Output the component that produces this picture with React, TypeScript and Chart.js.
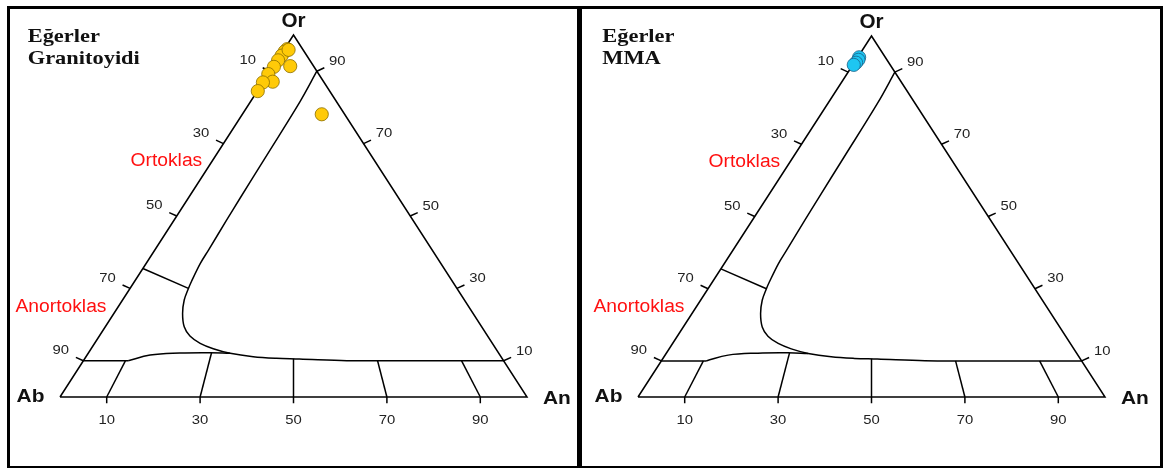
import React, { useEffect, useRef } from "react";
import { Chart, registerables } from "chart.js";

Chart.register(...registerables);

// ---------- data (ternary compositions, percent) ----------
const TICK_VALUES = [10, 30, 50, 70, 90];
const LEFT_TICK_LABELS = ["10", "30", "50", "70", "90"]; // Ab along Or–Ab edge
const RIGHT_TICK_LABELS = ["90", "70", "50", "30", "10"]; // Or along Or–An edge
const BOTTOM_TICK_LABELS = ["10", "30", "50", "70", "90"]; // An along Ab–An edge

// Alkali-feldspar / plagioclase boundary (solvus) – An and Or values
const SOLVUS_AN = [10, 10.6, 10.9, 11.1, 11.25, 11.5, 11.6, 12.2, 12.5, 13.2, 14.7, 16.9, 19.4, 22.6, 26.15, 30.4, 35.8, 41, 46, 56.4, 61, 90];
const SOLVUS_OR = [90, 81.6, 66, 54.9, 48.9, 40.6, 36.9, 31.85, 30, 26.8, 23.1, 19.4, 16.85, 14.83, 13.34, 12.07, 11.13, 10.69, 10.5, 10.03, 10, 10];

// Plagioclase upper boundary
const PLAG_AN = [9.6, 13.5, 19.6, 26.0, 30.4];
const PLAG_OR = [10, 11.6, 12.15, 12.24, 12.07];

// Albite segment at Or = 10
const ALB_AN = [0, 9.6];
const ALB_OR = [10, 10];

// Anortoklas / Ortoklas divider
const DIV_AN = [0, 12.5];
const DIV_OR = [35.5, 30];

// Plagioclase subdivisions (An of base, Or at top)
const PLAG_DIV_AN = [10, 30, 50, 70, 90];
const PLAG_DIV_TOP_OR = [10, 12.24, 10.6, 10, 10];

// Samples
const GRANITE_OR = [96.1, 95.4, 94.3, 93.0, 91.4, 91.2, 89.2, 87.1, 86.9, 84.5, 78.1, 95.9];
const GRANITE_AN = [0.6, 0.4, 0.3, 0.2, 3.6, 0.2, 0.0, 2.0, 0.0, 0.1, 17.0, 1.0];

const MMA_OR = [94.1, 93.4, 92.6, 92.0];
const MMA_AN = [0.3, 0.5, 0.4, 0.2];

// ---------- helpers ----------
const toXY = (an: number, or: number) => ({ x: an + or / 2, y: or });
const series = (an: number[], or: number[]) => an.map((a, i) => toXY(a, or[i]));

const lineDs = (data: any[], tension = 0) => ({
  type: "scatter" as const,
  data,
  showLine: true,
  borderColor: "#000",
  borderWidth: 1.5,
  pointRadius: 0,
  pointHoverRadius: 0,
  tension,
  clip: false as any,
  fill: false,
});

const SANS = '"Liberation Sans", Arial, sans-serif';
const SERIF = '"Liberation Serif", "Times New Roman", serif';

interface PanelProps {
  width: number;
  height: number;
  padding: { left: number; right: number; top: number; bottom: number };
  titles: string[];
  titleX: number;
  pointsOr: number[];
  pointsAn: number[];
  fill: string;
  stroke: string;
}

function makeTextPlugin(p: PanelProps) {
  return {
    id: "ternaryText",
    afterDraw(chart: any) {
      const ctx = chart.ctx as CanvasRenderingContext2D;
      const xs = chart.scales.x;
      const ys = chart.scales.y;
      const px = (x: number) => xs.getPixelForValue(x);
      const py = (y: number) => ys.getPixelForValue(y);
      const draw = (
        text: string,
        x: number,
        y: number,
        font: string,
        color: string,
        align: CanvasTextAlign,
        stretch: number
      ) => {
        ctx.save();
        ctx.font = font;
        ctx.fillStyle = color;
        ctx.textAlign = align;
        ctx.textBaseline = "alphabetic";
        ctx.translate(x, y);
        ctx.scale(stretch, 1);
        ctx.fillText(text, 0, 0);
        ctx.restore();
      };
      const tickFont = `13.5px ${SANS}`;
      const tickColor = "#222";
      // left edge labels (Ab)
      TICK_VALUES.forEach((v, i) => {
        const pt = toXY(0, 100 - v);
        draw(LEFT_TICK_LABELS[i], px(pt.x) - 22.5, py(pt.y) - 6.8, tickFont, tickColor, "center", 1.1);
      });
      // right edge labels (Or)
      TICK_VALUES.forEach((v, i) => {
        const or = 100 - v;
        const pt = toXY(100 - or, or);
        draw(RIGHT_TICK_LABELS[i], px(pt.x) + 20.5, py(pt.y) - 6.3, tickFont, tickColor, "center", 1.1);
      });
      // bottom labels (An)
      TICK_VALUES.forEach((v, i) => {
        const pt = toXY(v, 0);
        draw(BOTTOM_TICK_LABELS[i], px(pt.x), py(pt.y) + 27, tickFont, tickColor, "center", 1.1);
      });
      // apex labels
      const or = toXY(0, 100);
      draw("Or", px(or.x), py(or.y) - 7.7, `bold 19.5px ${SANS}`, "#111", "center", 1.06);
      const ab = toXY(0, 0);
      draw("Ab", px(ab.x) - 15.6, py(ab.y) + 4.8, `bold 19px ${SANS}`, "#111", "right", 1.1);
      const an = toXY(100, 0);
      draw("An", px(an.x) + 16, py(an.y) + 7.3, `bold 19px ${SANS}`, "#111", "left", 1.1);
      // field names
      draw("Ortoklas", px(15.1), py(63.8), `18px ${SANS}`, "#ff1010", "left", 1.07);
      draw("Anortoklas", px(-9.53), py(23.56), `18px ${SANS}`, "#ff1010", "left", 1.07);
      // titles
      p.titles.forEach((t, i) => {
        draw(t, p.titleX, 32.7 + i * 22.6, `bold 19px ${SERIF}`, "#111", "left", 1.18);
      });
    },
  };
}

function TernaryPanel(p: PanelProps) {
  const ref = useRef<HTMLCanvasElement>(null);
  useEffect(() => {
    if (!ref.current) return;
    const datasets: any[] = [];
    // samples first so they are drawn on top
    datasets.push({
      type: "scatter",
      data: series(p.pointsAn, p.pointsOr),
      pointRadius: 6.6,
      pointBackgroundColor: p.fill,
      pointBorderColor: p.stroke,
      pointBorderWidth: 0.8,
      showLine: false,
      clip: false,
    });
    // triangle
    datasets.push(lineDs([toXY(0, 0), toXY(100, 0), toXY(0, 100), toXY(0, 0)]));
    // boundaries
    datasets.push(lineDs(series(SOLVUS_AN, SOLVUS_OR), 0.35));
    datasets.push(lineDs(series(PLAG_AN, PLAG_OR), 0.4));
    datasets.push(lineDs(series(ALB_AN, ALB_OR)));
    datasets.push(lineDs(series(DIV_AN, DIV_OR)));
    PLAG_DIV_AN.forEach((v, i) => {
      const top = PLAG_DIV_TOP_OR[i];
      datasets.push(lineDs([toXY(v, 0), toXY(v * (1 - top / 100), top)]));
    });
    // ticks
    TICK_VALUES.forEach((v) => {
      const l = toXY(0, 100 - v);
      datasets.push(lineDs([l, { x: l.x - 1.6, y: l.y + 0.95 }]));
      const r = toXY(v, 100 - v);
      datasets.push(lineDs([r, { x: r.x + 1.6, y: r.y + 0.95 }]));
      const b = toXY(v, 0);
      datasets.push(lineDs([b, { x: b.x, y: b.y - 1.7 }]));
    });

    const chart = new Chart(ref.current, {
      type: "scatter",
      data: { datasets },
      options: {
        animation: false,
        responsive: false,
        maintainAspectRatio: false,
        layout: { padding: p.padding },
        plugins: { legend: { display: false }, tooltip: { enabled: false } },
        events: [],
        scales: {
          x: { type: "linear", min: 0, max: 100, display: false },
          y: { type: "linear", min: 0, max: 100, display: false },
        },
      },
      plugins: [makeTextPlugin(p)],
    });
    return () => chart.destroy();
  }, []);
  return <canvas ref={ref} width={p.width} height={p.height} style={{ display: "block", width: p.width, height: p.height }} />;
}

export default function App() {
  return (
    <div style={{ position: "absolute", left: 0, top: 0, width: 1163, height: 468, background: "#fff" }}>
      <div
        style={{
          position: "absolute",
          left: 7,
          top: 6,
          width: 572,
          height: 462,
          boxSizing: "border-box",
          borderLeft: "3px solid #000",
          borderTop: "3px solid #000",
          borderRight: "2px solid #000",
          borderBottom: "2px solid #000",
        }}
      >
        <TernaryPanel
          width={567}
          height={457}
          padding={{ left: 50, right: 50, top: 26, bottom: 69 }}
          titles={["Eğerler", "Granitoyidi"]}
          titleX={17.7}
          pointsOr={GRANITE_OR}
          pointsAn={GRANITE_AN}
          fill="#FFCA08"
          stroke="#8a6d00"
        />
      </div>
      <div
        style={{
          position: "absolute",
          left: 579,
          top: 6,
          width: 584,
          height: 462,
          boxSizing: "border-box",
          borderLeft: "3px solid #000",
          borderTop: "3px solid #000",
          borderRight: "3px solid #000",
          borderBottom: "2px solid #000",
        }}
      >
        <TernaryPanel
          width={578}
          height={457}
          padding={{ left: 56, right: 55, top: 27, bottom: 69 }}
          titles={["Eğerler", "MMA"]}
          titleX={20.3}
          pointsOr={MMA_OR}
          pointsAn={MMA_AN}
          fill="#1EC6F2"
          stroke="#1b5f86"
        />
      </div>
    </div>
  );
}
